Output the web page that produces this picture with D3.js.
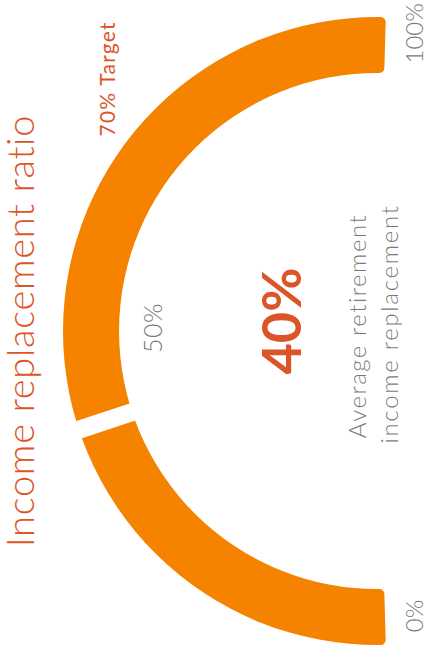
<!DOCTYPE html>
<html>
<head>
<meta charset="utf-8">
<script src="https://cdn.jsdelivr.net/npm/d3@7/dist/d3.min.js"></script>
<style>
  html, body { margin: 0; padding: 0; background: #fff; }
  svg { display: block; }
</style>
</head>
<body>
<script>
// Gauge values (percent)
const gaugeMin = 0;
const gaugeMax = 100;
const currentValue = 40;
const targetValue = 70;
const midValue = 50;

// Text
const titleText = "Income replacement ratio";
const valueText = "40%";
const targetText = "70% Target";
const captionLines = ["Average retirement", "income replacement"];
const tickLabels = ["0%", "50%", "100%"];

const W = 429, H = 657;
const orange = "#f58300";
const accent = "#dc5528";
const grey = "#7b7b7b";
const fontFamily = "Lato, 'Open Sans', sans-serif";

const svg = d3.select("body").append("svg")
  .attr("width", W).attr("height", H);

// Gauge geometry: centre sits near the right edge, band sweeps through the left
const cx = 377, cy = 331;
const rInner = 258, rOuter = 314;
const ext = 0.028; // band runs a hair past the horizontal at both ends

const angle = d3.scaleLinear()
  .domain([gaugeMin, gaugeMax])
  .range([Math.PI - ext, 2 * Math.PI + ext]);

const g = svg.append("g").attr("transform", `translate(${cx},${cy})`);

const band = d3.arc()
  .innerRadius(rInner)
  .outerRadius(rOuter)
  .cornerRadius(5);

g.append("path")
  .attr("d", band({ startAngle: angle(gaugeMin), endAngle: angle(gaugeMax) }))
  .attr("fill", orange);

// separator at the current value
const pt = (v, r) => [r * Math.sin(angle(v)), -r * Math.cos(angle(v))];
const [sx0, sy0] = pt(currentValue, rInner - 6);
const [sx1, sy1] = pt(currentValue, rOuter + 6);
g.append("line")
  .attr("x1", sx0).attr("y1", sy0).attr("x2", sx1).attr("y2", sy1)
  .attr("stroke", "#fff").attr("stroke-width", 18);

// helper for text reading bottom-to-top
function vtext(x, y, str, opts) {
  const t = svg.append("text")
    .attr("transform", `translate(${x},${y}) rotate(-90)`)
    .attr("text-anchor", opts.anchor || "middle")
    .attr("font-family", fontFamily)
    .attr("font-size", opts.size)
    .attr("font-weight", opts.weight || 300)
    .attr("fill", opts.fill)
    .text(str);
  if (opts.spacing) t.attr("letter-spacing", opts.spacing);
  return t;
}

// title
vtext(34, 331, titleText, { size: 38, fill: accent, spacing: 0.7 });

// target label just outside the band
const [tx, ty] = pt(targetValue, 326);
vtext(cx + tx, cy + ty, targetText, { size: 21, weight: 400, fill: accent, anchor: "start", spacing: 1.2 });

// mid tick label inside the band
const [mx, my] = pt(midValue, 215);
vtext(cx + mx, cy + my - 3, tickLabels[1], { size: 25, fill: grey, spacing: 0.5 });

// end labels beyond the band ends
const rMidBand = (rInner + rOuter) / 2;
const [ax, ay] = pt(gaugeMin, rMidBand);
vtext(423, cy + ay - 1, tickLabels[0], { size: 24, fill: grey });
vtext(423, 3, tickLabels[2], { size: 24, fill: grey, anchor: "end" });

// centre readout
vtext(301, cy - 10, valueText, { size: 54, weight: 700, fill: accent });
vtext(366, cy - 5, captionLines[0], { size: 24, fill: grey, spacing: 1.5 });
vtext(398, cy - 7, captionLines[1], { size: 24, fill: grey, spacing: 1.7 });
</script>
</body>
</html>
